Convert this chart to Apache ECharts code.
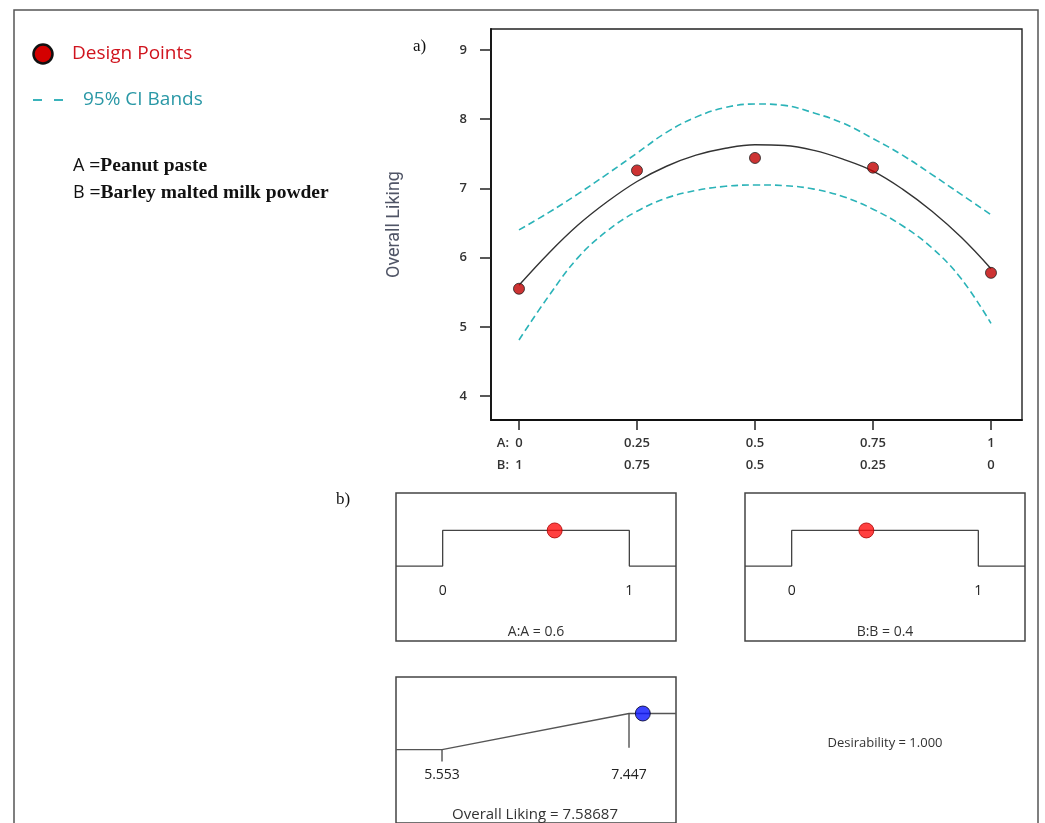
<!DOCTYPE html>
<html><head><meta charset="utf-8">
<script src="https://cdn.jsdelivr.net/npm/echarts@6/dist/echarts.min.js"></script>
<style>html,body{margin:0;padding:0;background:#fff}#c{width:1045px;height:823px}</style>
</head><body><div id="c"></div>
<script>
// ---- data ----
const curveX  = [0, 0.0625, 0.125, 0.1875, 0.25, 0.3125, 0.375, 0.4375, 0.5,
                 0.5625, 0.625, 0.6875, 0.75, 0.8125, 0.875, 0.9375, 1];
const fitY    = [5.60, 6.06, 6.47, 6.81, 7.10, 7.32, 7.48, 7.58, 7.63,
                 7.62, 7.55, 7.42, 7.25, 6.99, 6.67, 6.29, 5.84];
const upperY  = [6.40, 6.65, 6.92, 7.21, 7.51, 7.81, 8.03, 8.17, 8.22,
                 8.20, 8.09, 7.94, 7.72, 7.48, 7.20, 6.91, 6.62];
const lowerY  = [4.81, 5.44, 6.00, 6.39, 6.67, 6.86, 6.97, 7.03, 7.05,
                 7.04, 6.99, 6.88, 6.70, 6.46, 6.14, 5.69, 5.05];
const designX = [0, 0.25, 0.5, 0.75, 1];
const designY = [5.55, 7.26, 7.44, 7.30, 5.78];
const tickA   = ['0', '0.25', '0.5', '0.75', '1'];
const tickB   = ['1', '0.75', '0.5', '0.25', '0'];
const yTicks  = [4, 5, 6, 7, 8, 9];
const factorLimits = [0, 1];
const factorOpt = { A: 0.6, B: 0.4 };
const respLimits = [5.553, 7.447];
const respOpt = 7.58687;
const desirability = 1.000;

const pairs = (xs, ys) => xs.map((x, i) => [x, ys[i]]);
const SANS = '"Open Sans","Noto Sans",sans-serif';
const SERIF = '"Liberation Serif","DejaVu Serif",serif';

// factor desirability step: 0 outside limits, 1 inside
const fMin = -0.25, fMax = 1.25;
const stepData = [[fMin, 0], [factorLimits[0], 0], [factorLimits[0], 1],
                  [factorLimits[1], 1], [factorLimits[1], 0], [fMax, 0]];
const rMin = 5.087, rMax = 7.923;
const rampData = [[rMin, 0], [respLimits[0], 0], [respLimits[1], 1], [rMax, 1]];

const chart = echarts.init(document.getElementById('c'), null, { renderer: 'canvas' });

const hiddenY = (g, min, max) => ({ type: 'value', gridIndex: g, min, max, show: false });
const insideX = (g, min, max, vals, margin) => ({
  type: 'value', gridIndex: g, min, max, splitLine: { show: false },
  axisLine: { show: false }, axisTick: { show: false },
  axisLabel: { inside: true, margin, customValues: vals, color: '#222',
    fontFamily: SANS, fontSize: 14 }
});

chart.setOption({
  animation: false,
  grid: [
    { left: 491, top: 29, width: 531, height: 391, show: true, borderColor: '#222', borderWidth: 1.4, backgroundColor: 'transparent' },
    { left: 396, top: 493, width: 280, height: 148, show: true, borderColor: '#444', borderWidth: 1.5 },
    { left: 745, top: 493, width: 280, height: 148, show: true, borderColor: '#444', borderWidth: 1.5 },
    { left: 396, top: 677, width: 280, height: 150, show: true, borderColor: '#444', borderWidth: 1.5 }
  ],
  xAxis: [
    { type: 'value', gridIndex: 0, min: -0.0593, max: 1.0657, position: 'bottom',
      splitLine: { show: false },
      axisLine: { show: true, onZero: false, lineStyle: { color: '#111', width: 1.8 } },
      axisTick: { show: true, length: 10, customValues: designX, lineStyle: { color: '#222', width: 1.5 } },
      axisLabel: { margin: 12, customValues: designX, color: '#333', fontFamily: SANS, fontSize: 13, fontWeight: 600, lineHeight: 22,
        formatter: v => { const i = designX.indexOf(v); return tickA[i] + '\n' + tickB[i]; } } },
    insideX(1, fMin, fMax, factorLimits, 43),
    insideX(2, fMin, fMax, factorLimits, 43),
    insideX(3, rMin, rMax, respLimits, 41)
  ],
  yAxis: [
    { type: 'value', gridIndex: 0, min: 3.6532, max: 9.3035, position: 'left',
      splitLine: { show: false },
      axisLine: { show: true, onZero: false, lineStyle: { color: '#111', width: 1.8 } },
      axisTick: { show: true, length: 11, customValues: yTicks, lineStyle: { color: '#222', width: 1.5 } },
      axisLabel: { margin: 24, customValues: yTicks, color: '#333', fontFamily: SANS, fontSize: 13, fontWeight: 600 },
      name: 'Overall Liking', nameLocation: 'middle', nameGap: 88, nameRotate: 90,
      nameTextStyle: { fontFamily: '"Liberation Sans Narrow","Roboto",sans-serif', fontSize: 18, color: '#505566' } },
    hiddenY(1, -2.1, 2.05),
    hiddenY(2, -2.1, 2.05),
    hiddenY(3, -2.03, 2.01)
  ],
  series: [
    { type: 'line', xAxisIndex: 0, yAxisIndex: 0, data: pairs(curveX, upperY), smooth: 0.4, showSymbol: false,
      lineStyle: { color: '#2bb3b8', width: 1.6, type: [7, 4] }, z: 3 },
    { type: 'line', xAxisIndex: 0, yAxisIndex: 0, data: pairs(curveX, lowerY), smooth: 0.4, showSymbol: false,
      lineStyle: { color: '#2bb3b8', width: 1.6, type: [7, 4] }, z: 3 },
    { type: 'line', xAxisIndex: 0, yAxisIndex: 0, data: pairs(curveX, fitY), smooth: 0.4, showSymbol: false,
      lineStyle: { color: '#333', width: 1.4 }, z: 4 },
    { type: 'scatter', xAxisIndex: 0, yAxisIndex: 0, data: pairs(designX, designY), symbolSize: 11,
      itemStyle: { color: '#c00000', borderColor: '#222', borderWidth: 1 }, z: 5 },

    { type: 'line', xAxisIndex: 1, yAxisIndex: 1, data: stepData, showSymbol: false,
      lineStyle: { color: '#444', width: 1.3 } },
    { type: 'scatter', xAxisIndex: 1, yAxisIndex: 1, data: [[factorOpt.A, 1]], symbolSize: 15,
      itemStyle: { color: '#ff1010', borderColor: '#a00', borderWidth: 1 }, z: 5 },
    { type: 'line', xAxisIndex: 2, yAxisIndex: 2, data: stepData, showSymbol: false,
      lineStyle: { color: '#444', width: 1.3 } },
    { type: 'scatter', xAxisIndex: 2, yAxisIndex: 2, data: [[factorOpt.B, 1]], symbolSize: 15,
      itemStyle: { color: '#ff1010', borderColor: '#a00', borderWidth: 1 }, z: 5 },

    { type: 'line', xAxisIndex: 3, yAxisIndex: 3, data: rampData, showSymbol: false,
      lineStyle: { color: '#555', width: 1.3 } },
    { type: 'line', xAxisIndex: 3, yAxisIndex: 3, data: [[respLimits[0], 0], [respLimits[0], -0.33]], showSymbol: false,
      lineStyle: { color: '#444', width: 1.3 } },
    { type: 'line', xAxisIndex: 3, yAxisIndex: 3, data: [[respLimits[1], 1], [respLimits[1], 0.05]], showSymbol: false,
      lineStyle: { color: '#444', width: 1.3 } },
    { type: 'scatter', xAxisIndex: 3, yAxisIndex: 3, data: [[respOpt, desirability]], symbolSize: 15,
      itemStyle: { color: '#0a14ff', borderColor: '#002', borderWidth: 1 }, z: 5 }
  ],
  graphic: [
    { type: 'rect', shape: { x: 14, y: 10, width: 1024, height: 840 }, style: { fill: 'none', stroke: '#555', lineWidth: 1.5 }, z: -1, silent: true },
    { type: 'circle', shape: { cx: 43, cy: 54, r: 9.5 }, style: { fill: '#d40000', stroke: '#111', lineWidth: 2.5 } },
    { type: 'text', x: 72, y: 54, style: { text: 'Design Points', fill: '#d0141e', font: '19px ' + SANS, textVerticalAlign: 'middle' } },
    { type: 'line', shape: { x1: 33, y1: 100, x2: 42, y2: 100 }, style: { stroke: '#3ab3bb', lineWidth: 2 } },
    { type: 'line', shape: { x1: 54, y1: 100, x2: 63, y2: 100 }, style: { stroke: '#3ab3bb', lineWidth: 2 } },
    { type: 'text', x: 83, y: 100, style: { text: '95% CI Bands', fill: '#2a98a6', font: '19px ' + SANS, textVerticalAlign: 'middle' } },
    { type: 'text', x: 73, y: 166, style: { text: '{s|A} =Peanut paste', fill: '#111', font: 'bold 19.5px ' + SERIF, textVerticalAlign: 'middle',
        rich: { s: { font: '18px ' + SANS, fill: '#111' } } } },
    { type: 'text', x: 73, y: 193, style: { text: '{s|B} =Barley malted milk powder', fill: '#111', font: 'bold 19.5px ' + SERIF, textVerticalAlign: 'middle',
        rich: { s: { font: '18px ' + SANS, fill: '#111' } } } },
    { type: 'text', x: 413, y: 47, style: { text: 'a)', fill: '#111', font: '17px ' + SERIF, textVerticalAlign: 'middle' } },
    { type: 'text', x: 336, y: 500, style: { text: 'b)', fill: '#111', font: '17px ' + SERIF, textVerticalAlign: 'middle' } },
    { type: 'text', x: 509, y: 443, style: { text: 'A:', fill: '#333', font: '600 13px ' + SANS, textAlign: 'right', textVerticalAlign: 'middle' } },
    { type: 'text', x: 509, y: 465, style: { text: 'B:', fill: '#333', font: '600 13px ' + SANS, textAlign: 'right', textVerticalAlign: 'middle' } },
    { type: 'text', x: 536, y: 632, style: { text: 'A:A = ' + factorOpt.A, fill: '#333', font: '14px ' + SANS, textAlign: 'center', textVerticalAlign: 'middle' } },
    { type: 'text', x: 885, y: 632, style: { text: 'B:B = ' + factorOpt.B, fill: '#333', font: '14px ' + SANS, textAlign: 'center', textVerticalAlign: 'middle' } },
    { type: 'text', x: 535, y: 815, style: { text: 'Overall Liking = ' + respOpt, fill: '#333', font: '15px ' + SANS, textAlign: 'center', textVerticalAlign: 'middle' } },
    { type: 'text', x: 885, y: 743, style: { text: 'Desirability = ' + desirability.toFixed(3), fill: '#333', font: '13px ' + SANS, textAlign: 'center', textVerticalAlign: 'middle' } }
  ]
});
</script></body></html>
